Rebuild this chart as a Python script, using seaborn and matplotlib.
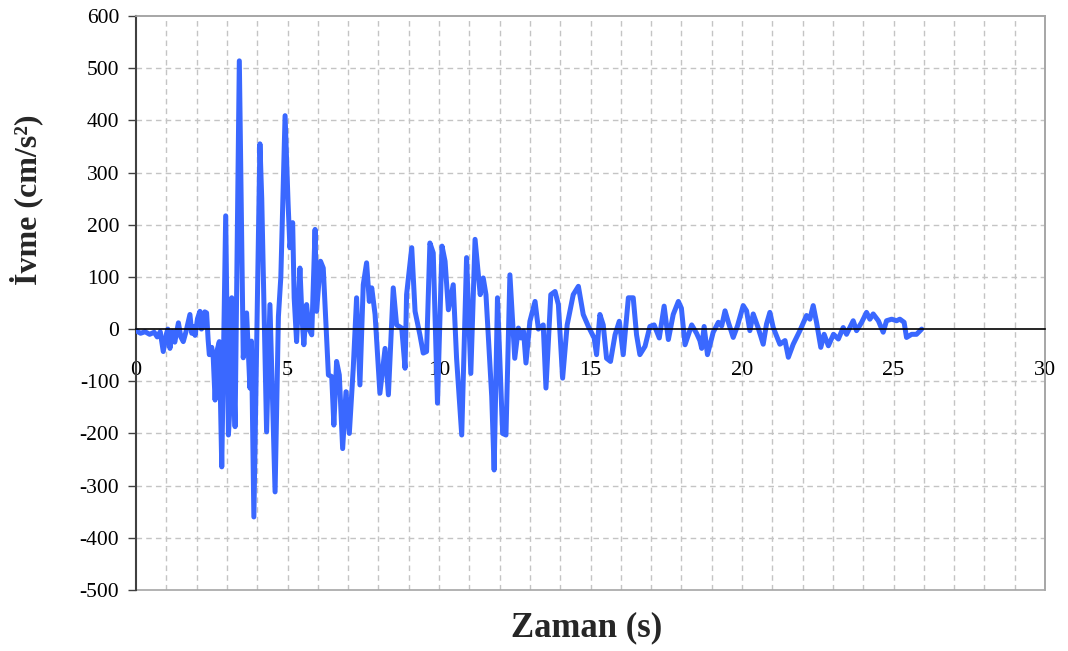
import numpy as np
import pandas as pd
import matplotlib
matplotlib.use("Agg")
import matplotlib.pyplot as plt
import seaborn as sns
from matplotlib.patches import Rectangle

# Acceleration record: time (s) and acceleration (cm/s^2)
zaman = [
    0.00, 0.15, 0.30, 0.45, 0.60, 0.70, 0.80, 0.90, 1.00, 1.05, 1.12, 1.20, 1.28, 1.40, 1.48,
    1.56, 1.65, 1.78, 1.84, 1.89, 1.95, 2.03, 2.11, 2.16, 2.22, 2.27, 2.33, 2.38, 2.42, 2.50,
    2.55, 2.61, 2.68, 2.75, 2.83, 2.96, 3.05, 3.10, 3.16, 3.27, 3.41, 3.54, 3.65, 3.76, 3.81,
    3.89, 4.09, 4.15, 4.31, 4.42, 4.59, 4.70, 4.78, 4.92, 5.02, 5.08, 5.17, 5.22, 5.30, 5.41,
    5.48, 5.54, 5.63, 5.71, 5.80, 5.91, 5.96, 6.09, 6.18, 6.35, 6.46, 6.53, 6.62, 6.71, 6.82,
    6.93, 7.04, 7.17, 7.28, 7.39, 7.50, 7.61, 7.70, 7.78, 7.89, 8.05, 8.22, 8.33, 8.49, 8.60,
    8.77, 8.88, 8.93, 9.10, 9.21, 9.37, 9.48, 9.59, 9.70, 9.81, 9.95, 10.10, 10.20, 10.31, 10.47,
    10.58, 10.75, 10.91, 11.05, 11.19, 11.36, 11.46, 11.55, 11.74, 11.82, 11.93, 12.10, 12.21, 12.34, 12.50,
    12.62, 12.70, 12.79, 12.87, 13.00, 13.17, 13.28, 13.44, 13.53, 13.69, 13.83, 13.94, 14.08, 14.23, 14.43,
    14.60, 14.76, 14.93, 15.12, 15.20, 15.31, 15.42, 15.53, 15.66, 15.81, 15.95, 16.08, 16.25, 16.41, 16.52,
    16.63, 16.80, 16.96, 17.10, 17.27, 17.43, 17.57, 17.73, 17.90, 18.00, 18.12, 18.34, 18.50, 18.61, 18.67,
    18.75, 18.86, 19.05, 19.22, 19.33, 19.44, 19.55, 19.71, 19.85, 20.04, 20.15, 20.26, 20.37, 20.53, 20.70,
    20.81, 20.92, 21.03, 21.25, 21.42, 21.53, 21.69, 21.91, 22.13, 22.24, 22.35, 22.46, 22.60, 22.71, 22.85,
    23.02, 23.18, 23.34, 23.45, 23.67, 23.78, 23.95, 24.11, 24.22, 24.33, 24.50, 24.66, 24.77, 24.94, 25.10,
    25.21, 25.35, 25.43, 25.60, 25.76, 25.93,
]
ivme = [
    -3, -8, -5, -10, -6, -15, -5, -43, -10, 0, -37, -5, -25, 12, -15,
    -24, -5, 28, -8, 5, -12, 20, 34, 0, 5, 33, 31, -20, -49, -35,
    -56, -136, -40, -24, -264, 217, -203, -150, 60, -187, 514, -55, 31, -113, -23,
    -360, 355, 250, -197, 47, -312, 24, 100, 409, 240, 156, 204, 60, -24, 117,
    20, -30, 47, 0, -11, 191, 34, 130, 117, -88, -91, -184, -62, -88, -229,
    -120, -200, -75, 60, -107, 85, 127, 53, 79, 28, -123, -37, -126, 79, 8,
    2, -75, 66, 156, 34, -11, -46, -43, 165, 146, -142, 159, 130, 37, 85,
    -56, -203, 137, -85, 172, 66, 98, 66, -129, -270, 60, -200, -203, 104, -56,
    2, -17, -4, -65, 15, 53, 0, 8, -113, 66, 72, 47, -94, 8, 66,
    82, 28, 5, -17, -49, 28, 8, -56, -62, -11, 15, -49, 60, 60, -11,
    -49, -33, 5, 8, -17, 44, -20, 28, 53, 40, -30, 8, -8, -22, -37,
    5, -49, -6, 13, 6, 35, 13, -16, 6, 45, 35, -3, 29, 3, -29,
    10, 32, 3, -29, -22, -54, -29, -3, 26, 19, 45, 13, -35, -10, -32,
    -10, -19, 3, -10, 16, -3, 13, 32, 19, 29, 16, -6, 16, 19, 16,
    19, 13, -16, -10, -10, 0,
]

x_ticks = [0, 5, 10, 15, 20, 25, 30]
y_ticks = [-500, -400, -300, -200, -100, 0, 100, 200, 300, 400, 500, 600]

df = pd.DataFrame({"Zaman": zaman, "Ivme": ivme})

sns.set_theme(style="white")
serif = ["Liberation Serif", "DejaVu Serif"]
plt.rcParams["font.family"] = serif

W, H = 1068, 651
fig = plt.figure(figsize=(W / 100, H / 100), dpi=100)
ax = fig.add_axes([136 / W, 1 - 590 / H, (1045 - 136) / W, (590 - 16) / H])

grid_col = "#c4c4c4"
dash = (0, (4, 3))
for xv in range(1, 30):
    ax.axvline(xv, color=grid_col, lw=1.0, ls=dash, zorder=0)
for yv in y_ticks[1:-1]:
    if yv != 0:
        ax.axhline(yv, color=grid_col, lw=1.0, ls=dash, zorder=0)

sns.lineplot(data=df, x="Zaman", y="Ivme", ax=ax, color="#3a68ff",
             lw=3.6, estimator=None, sort=False, zorder=3)
for ln in ax.get_lines()[-1:]:
    ln.set_solid_joinstyle("round")
    ln.set_solid_capstyle("round")

ax.set_xlim(0, 30)
ax.set_ylim(-500, 600)
ax.set_xticks(x_ticks)
ax.set_yticks(y_ticks)
ax.set_xticklabels([str(v) for v in x_ticks])
ax.set_yticklabels([str(v) for v in y_ticks])

# x axis crosses at zero, plot area framed in grey
ax.spines["bottom"].set_position(("data", 0))
ax.spines["bottom"].set_color("black")
ax.spines["bottom"].set_linewidth(1.2)
ax.spines["bottom"].set_zorder(4)
ax.spines["left"].set_color("#404040")
ax.spines["left"].set_linewidth(1.5)
for s in ("top", "right"):
    ax.spines[s].set_color("#a6a6a6")
    ax.spines[s].set_linewidth(1.2)
ax.add_patch(Rectangle((0, 0), 1, 1, transform=ax.transAxes, fill=False,
                       edgecolor="#a6a6a6", lw=1.2, zorder=1, clip_on=False))

ax.tick_params(axis="x", direction="out", length=4, width=1, color="black",
               pad=19, labelsize=16, labelcolor="black")
ax.tick_params(axis="y", direction="out", length=6, width=1, color="#404040",
               pad=6, labelsize=15.5, labelcolor="black", left=True)
ax.set_xlabel("")
ax.set_ylabel("")

fig.text(26 / W, 1 - 200 / H, "İvme (cm/s²)", rotation=90, ha="center", va="center",
         fontsize=23, fontweight="bold", family=serif)
fig.text(587 / W, 1 - 628 / H, "Zaman (s)", ha="center", va="center",
         fontsize=25, fontweight="bold", family=serif)

fig.savefig("out.png", dpi=100, facecolor="white")
